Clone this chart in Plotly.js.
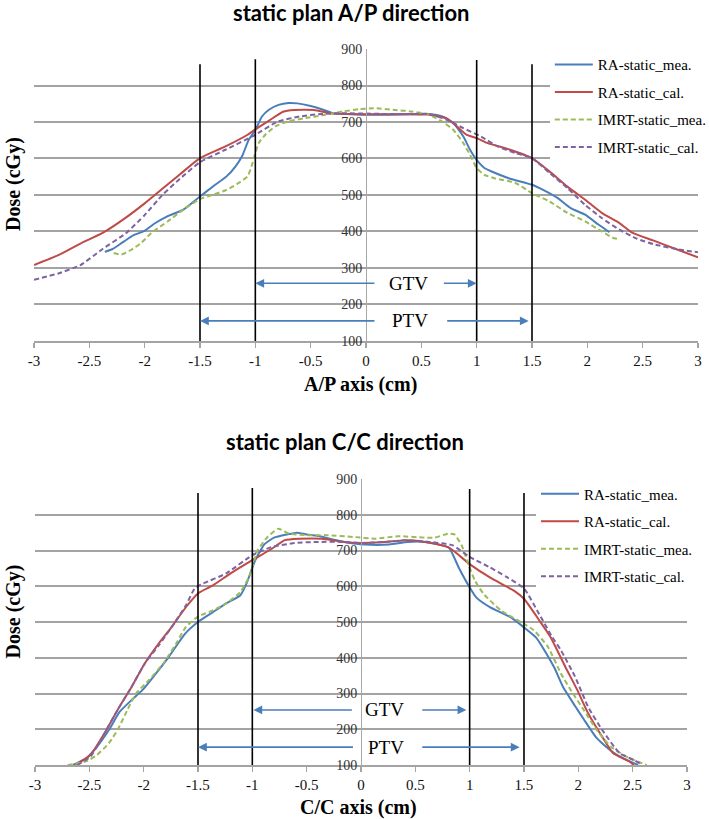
<!DOCTYPE html>
<html>
<head>
<meta charset="utf-8">
<script src="https://cdn.plot.ly/plotly-3.0.1.min.js"></script>
<style>
  html, body { margin: 0; padding: 0; background: #fff; }
  #chart { width: 709px; height: 819px; }
</style>
</head>
<body>
<div id="chart"></div>
<script>
// ---- A/P direction (top panel) ----
var apRaMeaX = [-2.36, -2.29, -2.2, -2.1, -2.0, -1.9, -1.8, -1.65, -1.5, -1.38, -1.26, -1.18, -1.12, -1.06, -1.0, -0.94, -0.88, -0.79, -0.7, -0.62, -0.5, -0.4, -0.3, -0.18, 0, 0.2, 0.4, 0.57, 0.69, 0.79, 0.88, 0.94, 1.0, 1.07, 1.13, 1.29, 1.5, 1.6, 1.73, 1.85, 1.98, 2.1, 2.2];
var apRaMeaY = [344, 352, 370, 390, 402, 424, 441, 460, 496, 524, 551, 578, 606, 651, 678, 715, 733, 747, 752, 751, 744, 735, 724, 722, 720, 720, 721, 722, 715, 697, 660, 624, 596, 574, 565, 546, 528, 514, 492, 464, 446, 419, 398];

var apRaCalX = [-3, -2.78, -2.58, -2.38, -2.17, -2.0, -1.84, -1.68, -1.5, -1.27, -1.07, -1.0, -0.87, -0.75, -0.65, -0.47, -0.32, -0.15, 0, 0.2, 0.4, 0.57, 0.73, 0.82, 0.91, 1.0, 1.1, 1.26, 1.5, 1.66, 1.82, 1.98, 2.13, 2.29, 2.41, 2.6, 2.8, 3.0];
var apRaCalY = [308, 335, 367, 396, 438, 477, 517, 557, 601, 633, 665, 680, 705, 728, 733, 733, 724, 722, 721, 721, 721, 720, 710, 688, 665, 656, 642, 628, 601, 564, 523, 487, 451, 423, 396, 375, 352, 329];

var apImrtMeaX = [-2.28, -2.21, -2.12, -2.03, -1.94, -1.79, -1.65, -1.5, -1.38, -1.26, -1.15, -1.07, -1.03, -1.0, -0.97, -0.91, -0.82, -0.71, -0.56, -0.38, -0.21, -0.06, 0.07, 0.26, 0.41, 0.57, 0.69, 0.79, 0.88, 0.94, 1.0, 1.07, 1.16, 1.35, 1.5, 1.66, 1.82, 1.98, 2.13, 2.23, 2.27];
var apImrtMeaY = [341, 337, 350, 369, 396, 428, 460, 489, 501, 514, 533, 551, 583, 615, 642, 665, 688, 701, 710, 719, 729, 735, 738, 733, 729, 720, 701, 678, 642, 610, 574, 555, 546, 533, 505, 482, 451, 428, 400, 383, 380];

var apImrtCalX = [-3, -2.78, -2.58, -2.38, -2.17, -2.0, -1.84, -1.68, -1.5, -1.27, -1.0, -0.8, -0.6, -0.4, -0.2, 0, 0.2, 0.4, 0.57, 0.73, 0.88, 1.04, 1.19, 1.35, 1.5, 1.66, 1.82, 1.98, 2.13, 2.29, 2.45, 2.6, 2.8, 3.0];
var apImrtCalY = [268, 285, 308, 352, 395, 445, 500, 545, 590, 624, 665, 701, 715, 722, 724, 723, 722, 722, 722, 706, 683, 660, 633, 615, 601, 560, 519, 473, 437, 405, 380, 365, 352, 343];

// ---- C/C direction (bottom panel) ----
var ccRaMeaX = [-2.65, -2.53, -2.43, -2.32, -2.22, -2.11, -2.01, -1.89, -1.77, -1.62, -1.5, -1.36, -1.24, -1.11, -1.05, -0.98, -0.89, -0.8, -0.68, -0.59, -0.5, -0.38, -0.26, -0.1, 0.09, 0.26, 0.43, 0.59, 0.7, 0.81, 0.9, 1.0, 1.06, 1.19, 1.38, 1.5, 1.61, 1.7, 1.78, 1.86, 1.97, 2.05, 2.17, 2.3, 2.42, 2.55];
var ccRaMeaY = [100, 119, 151, 198, 249, 282, 310, 355, 402, 467, 500, 528, 552, 575, 610, 668, 717, 736, 745, 750, 745, 740, 731, 721, 716, 717, 724, 724, 718, 708, 652, 597, 569, 541, 513, 485, 457, 415, 372, 318, 265, 228, 175, 140, 118, 100];

var ccRaCalX = [-2.63, -2.49, -2.36, -2.24, -2.11, -1.99, -1.86, -1.74, -1.61, -1.5, -1.36, -1.2, -1.0, -0.82, -0.7, -0.57, -0.36, -0.16, 0, 0.22, 0.43, 0.59, 0.81, 1.0, 1.19, 1.41, 1.5, 1.64, 1.74, 1.88, 1.99, 2.09, 2.22, 2.32, 2.47, 2.51];
var ccRaCalY = [100, 128, 189, 254, 319, 384, 440, 487, 542, 580, 603, 636, 673, 705, 729, 733, 733, 724, 721, 724, 729, 724, 708, 662, 624, 587, 565, 505, 460, 375, 310, 245, 179, 133, 110, 100];

var ccImrtMeaX = [-2.7, -2.53, -2.43, -2.32, -2.24, -2.15, -2.07, -1.95, -1.82, -1.7, -1.61, -1.5, -1.36, -1.24, -1.11, -1.03, -0.95, -0.86, -0.76, -0.66, -0.49, -0.32, -0.07, 0.13, 0.34, 0.59, 0.68, 0.8, 0.86, 0.93, 0.99, 1.05, 1.13, 1.29, 1.5, 1.59, 1.72, 1.84, 1.93, 2.05, 2.17, 2.3, 2.47, 2.63];
var ccImrtMeaY = [100, 110, 128, 161, 198, 254, 300, 338, 384, 440, 487, 515, 533, 552, 584, 626, 701, 738, 761, 747, 743, 743, 738, 733, 740, 736, 736, 747, 745, 712, 660, 615, 578, 532, 495, 477, 431, 356, 310, 254, 198, 151, 119, 100];

var ccImrtCalX = [-2.61, -2.49, -2.36, -2.24, -2.11, -1.99, -1.86, -1.74, -1.61, -1.53, -1.45, -1.24, -1.0, -0.82, -0.61, -0.41, -0.16, 0, 0.22, 0.43, 0.63, 0.84, 1.0, 1.18, 1.34, 1.5, 1.64, 1.76, 1.84, 1.97, 2.09, 2.22, 2.38, 2.51, 2.59];
var ccImrtCalY = [100, 123, 189, 254, 319, 384, 435, 487, 547, 594, 608, 636, 687, 710, 721, 724, 724, 721, 724, 729, 724, 715, 682, 654, 626, 594, 522, 458, 421, 347, 263, 198, 133, 114, 100];

// target volume borders (cm) and the top of each border line (cGy)
var borderX = [-1.5, -1, 1, 1.5];
var apBorderTop = [858, 872, 870, 858];
var ccBorderTop = [861, 875, 872, 861];

// GTV / PTV arrows: [label x, left tail, left head, right tail, right head, y]
var apGtv = [0.38, 0.09, -1.0, 0.69, 1.0, 258];
var apPtv = [0.40, 0.09, -1.5, 0.72, 1.47, 155];
var ccGtv = [0.22, -0.07, -0.99, 0.55, 0.97, 254];
var ccPtv = [0.23, -0.06, -1.5, 0.55, 1.46, 150];

var seriesNames = ['RA-static_mea.', 'RA-static_cal.', 'IMRT-static_mea.', 'IMRT-static_cal.'];
var seriesColors = ['#4a7ebb', '#be4b48', '#9bbb59', '#7f63a1'];
var seriesDash = ['solid', 'solid', '5px,3px', '5px,3px'];

var xTickVals = [-3, -2.5, -2, -1.5, -1, -0.5, 0, 0.5, 1, 1.5, 2, 2.5, 3];
var xTickText = ['-3', '-2.5', '-2', '-1.5', '-1', '-0.5', '0', '0.5', '1', '1.5', '2', '2.5', '3'];

var serif = '"Liberation Serif", serif';
var gridCol = '#a3a3a3';

function series(xs, ys, i, xa, ya, leg) {
  return {
    x: xs, y: ys,
    type: 'scatter', mode: 'lines',
    name: seriesNames[i],
    legendgroup: leg + i,
    legend: leg,
    xaxis: xa, yaxis: ya,
    line: {color: seriesColors[i], width: 2, dash: seriesDash[i], shape: 'spline', smoothing: 0.5},
    hoverinfo: 'skip'
  };
}

var data = [
  series(apRaMeaX, apRaMeaY, 0, 'x', 'y', 'legend'),
  series(apRaCalX, apRaCalY, 1, 'x', 'y', 'legend'),
  series(apImrtMeaX, apImrtMeaY, 2, 'x', 'y', 'legend'),
  series(apImrtCalX, apImrtCalY, 3, 'x', 'y', 'legend'),
  series(ccRaMeaX, ccRaMeaY, 0, 'x2', 'y2', 'legend2'),
  series(ccRaCalX, ccRaCalY, 1, 'x2', 'y2', 'legend2'),
  series(ccImrtMeaX, ccImrtMeaY, 2, 'x2', 'y2', 'legend2'),
  series(ccImrtCalX, ccImrtCalY, 3, 'x2', 'y2', 'legend2')
];

var shapes = [];
var annotations = [];

function addPanel(xr, yr, tops, gtv, ptv) {
  for (var i = 0; i < borderX.length; i++) {
    shapes.push({
      type: 'line', xref: xr, yref: yr,
      x0: borderX[i], x1: borderX[i], y0: 100, y1: tops[i],
      line: {color: '#000', width: 1.6}
    });
  }
  [[gtv, 'GTV'], [ptv, 'PTV']].forEach(function (p) {
    var a = p[0];
    annotations.push({xref: xr, yref: yr, x: a[0], y: a[5], text: p[1], showarrow: false,
      font: {family: serif, size: 19, color: '#000'}});
    annotations.push({xref: xr, yref: yr, axref: xr, ayref: yr, x: a[2], y: a[5], ax: a[1], ay: a[5],
      text: '', showarrow: true, arrowhead: 2, arrowsize: 1.1, arrowwidth: 1.6, arrowcolor: '#4a7ebb'});
    annotations.push({xref: xr, yref: yr, axref: xr, ayref: yr, x: a[4], y: a[5], ax: a[3], ay: a[5],
      text: '', showarrow: true, arrowhead: 2, arrowsize: 1.1, arrowwidth: 1.6, arrowcolor: '#4a7ebb'});
  });
}
addPanel('x', 'y', apBorderTop, apGtv, apPtv);
addPanel('x2', 'y2', ccBorderTop, ccGtv, ccPtv);

function textNote(txt, x, y, size, fam, angle) {
  annotations.push({xref: 'paper', yref: 'paper', x: x, y: y, text: '<b>' + txt + '</b>', showarrow: false,
    textangle: angle || 0, xanchor: 'center', yanchor: 'middle',
    font: {family: fam, size: size, color: '#000'}});
}
textNote('static plan A/P direction', 0.478, 1.051, 22, 'Lato');
textNote('static plan C/C direction', 0.468, 0.452, 22, 'Lato');
textNote('A/P axis (cm)', 0.491, 0.532, 20, serif);
textNote('C/C axis (cm)', 0.488, -0.060, 20, serif);
textNote('Dose (cGy)', -0.031, 0.812, 20, serif, -90);
textNote('Dose (cGy)', -0.031, 0.215, 20, serif, -90);

function xAxis(dom, ya) {
  return {
    domain: dom, anchor: ya, range: [-3, 3],
    tickvals: xTickVals, ticktext: xTickText,
    showgrid: false, zeroline: false,
    showline: true, linecolor: gridCol, linewidth: 2,
    ticks: 'outside', ticklen: 5, tickcolor: gridCol, tickwidth: 1.5,
    tickfont: {family: serif, size: 15, color: '#111'}
  };
}
function yAxis(dom, pos) {
  return {
    domain: dom, anchor: 'free', position: pos, range: [100, 900],
    tickvals: [100, 200, 300, 400, 500, 600, 700, 800, 900],
    showgrid: true, gridcolor: gridCol, gridwidth: 2,
    zeroline: false, showline: true, linecolor: '#a8a8a8', linewidth: 1.2,
    ticks: '', ticklabelstandoff: 1,
    tickfont: {family: serif, size: 14, color: '#333'}
  };
}

var legendBase = {
  xref: 'container', yref: 'container',
  xanchor: 'left', yanchor: 'top', bgcolor: '#fff', borderwidth: 0,
  traceorder: 'grouped', tracegroupgap: 5, itemwidth: 38,
  font: {family: serif, size: 15, color: '#000'}
};
var legend1 = Object.assign({x: 0.7755, y: 0.941}, legendBase);
var legend2 = Object.assign({x: 0.756, y: 0.417}, legendBase);

var layout = {
  width: 709, height: 819,
  margin: {l: 34, r: 11, t: 49, b: 54, autoexpand: false},
  paper_bgcolor: '#fff', plot_bgcolor: 'rgba(0,0,0,0)',
  showlegend: true,
  xaxis: xAxis([0, 1], 'y'),
  yaxis: yAxis([0.5922, 1], 0.5),
  xaxis2: xAxis([0.0015, 0.9834], 'y2'),
  yaxis2: yAxis([0, 0.3994], 0.4925),
  legend: legend1,
  legend2: legend2,
  shapes: shapes,
  annotations: annotations
};

Plotly.newPlot('chart', data, layout, {displayModeBar: false, staticPlot: true});
</script>
</body>
</html>
